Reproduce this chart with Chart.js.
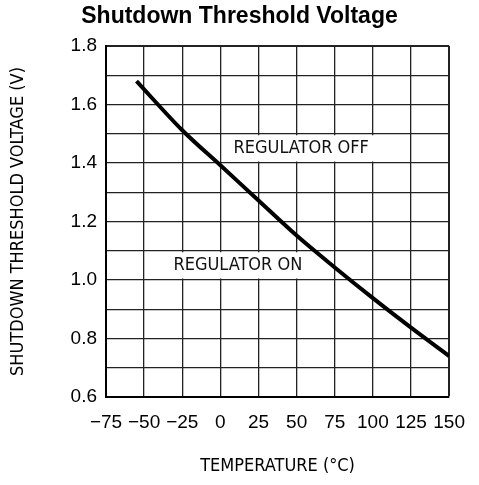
<!DOCTYPE html>
<html>
<head>
<meta charset="utf-8">
<title>Shutdown Threshold Voltage</title>
<script src="https://cdn.jsdelivr.net/npm/chart.js@4"></script>
<style>
  body { margin: 0; background: #fff; }
  #wrap { width: 479px; height: 485px; position: relative; }
</style>
</head>
<body>
<div id="wrap"><canvas id="shutdownChart"></canvas></div>
<script>
// ==================== DATA ====================
const tempC = [-55, -25, 0, 25, 50, 75, 100, 125, 150];
const threshV = [1.68, 1.512, 1.392, 1.272, 1.152, 1.043, 0.938, 0.837, 0.74];

const xTicks = [-75, -50, -25, 0, 25, 50, 75, 100, 125, 150];
const yTicks = [0.6, 0.8, 1.0, 1.2, 1.4, 1.6, 1.8];

// region labels (box spans + text anchor, in data units)
const regionText = ["REGULATOR OFF", "REGULATOR ON"];
const regionX = [[0, 125], [-50, 75]];
const regionY = [[1.4, 1.5], [1.0, 1.1]];
const regionAt = [[53, 1.45], [11.5, 1.05]];

const cadFont = "'DejaVu Sans Condensed', 'DejaVu Sans', sans-serif";
const tickFont = "'Liberation Sans', Arial, sans-serif";

// ==================== REGION LABEL PLUGIN ====================
const regionLabels = {
  id: "regionLabels",
  beforeDatasetsDraw(chart) {
    const ctx = chart.ctx;
    const xs = chart.scales.x, ys = chart.scales.y;
    ctx.save();
    regionText.forEach((txt, i) => {
      const x0 = xs.getPixelForValue(regionX[i][0]);
      const x1 = xs.getPixelForValue(regionX[i][1]);
      const y0 = ys.getPixelForValue(regionY[i][1]);
      const y1 = ys.getPixelForValue(regionY[i][0]);
      ctx.fillStyle = "#fff";
      ctx.fillRect(x0 + 1.5, y0 + 1.5, x1 - x0 - 3, y1 - y0 - 3);
      ctx.fillStyle = "#111";
      ctx.font = "18px " + cadFont;
      ctx.textAlign = "center";
      ctx.textBaseline = "middle";
      ctx.fillText(txt, xs.getPixelForValue(regionAt[i][0]), ys.getPixelForValue(regionAt[i][1]));
    });
    ctx.restore();
  }
};

// ==================== CHART ====================
const lastX = xTicks.length - 1;

new Chart(document.getElementById("shutdownChart"), {
  type: "line",
  data: {
    datasets: [{
      data: tempC.map((t, i) => ({ x: t, y: threshV[i] })),
      borderColor: "#000",
      borderWidth: 4,
      pointRadius: 0,
      cubicInterpolationMode: "monotone",
      fill: false
    }]
  },
  options: {
    responsive: true,
    maintainAspectRatio: false,
    animation: false,
    devicePixelRatio: 1,
    layout: { padding: { left: 21, right: 21, top: 0, bottom: 0 } },
    plugins: {
      legend: { display: false },
      tooltip: { enabled: false },
      title: {
        display: true,
        text: "Shutdown Threshold Voltage",
        color: "#000",
        font: { family: tickFont, size: 23, weight: "bold" },
        padding: { top: 3, bottom: 15.4 }
      }
    },
    scales: {
      x: {
        type: "linear",
        min: xTicks[0],
        max: xTicks[lastX],
        afterFit: (s) => { s.height = 88; },
        afterBuildTicks: (s) => { s.ticks = xTicks.map(v => ({ value: v })); },
        ticks: {
          autoSkip: false,
          maxRotation: 0,
          padding: 14,
          color: "#000",
          font: { family: tickFont, size: 19 },
          callback: (v) => (v < 0 ? "\u2212" + Math.abs(v) : String(v))
        },
        grid: {
          drawTicks: false,
          color: "#222",
          lineWidth: (c) => (c.index === lastX ? 2 : 1.3)
        },
        border: { display: true, color: "#000", width: 2 },
        title: {
          display: true,
          text: "TEMPERATURE (\u00B0C)",
          color: "#000",
          font: { family: cadFont, size: 18 },
          padding: { top: 0, bottom: 8 }
        }
      },
      y: {
        min: yTicks[0],
        max: yTicks[yTicks.length - 1],
        afterFit: (s) => { s.width = 85; },
        ticks: {
          stepSize: 0.1,
          autoSkip: false,
          padding: 9,
          color: "#000",
          font: { family: tickFont, size: 19 },
          callback: (v) => {
            const r = Math.round(v * 10) / 10;
            return yTicks.some(t => Math.abs(t - r) < 1e-6) ? r.toFixed(1) : "";
          }
        },
        grid: {
          drawTicks: false,
          color: "#222",
          lineWidth: (c) => (c.index === 12 ? 2 : 1.3)
        },
        border: { display: true, color: "#000", width: 2 },
        title: {
          display: true,
          text: "SHUTDOWN THRESHOLD VOLTAGE (V)",
          color: "#000",
          font: { family: cadFont, size: 18 },
          padding: { top: -13.5, bottom: 0 }
        }
      }
    }
  },
  plugins: [regionLabels]
});
</script>
</body>
</html>
